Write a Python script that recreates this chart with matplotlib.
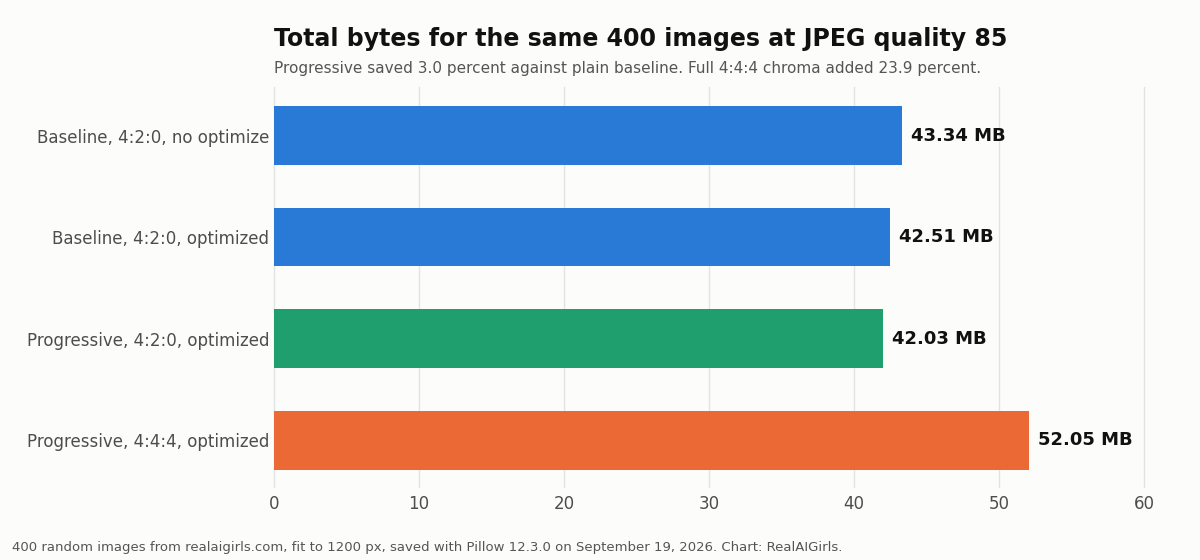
import matplotlib
matplotlib.use("Agg")
import matplotlib.pyplot as plt

categories = [
    "Baseline, 4:2:0, no optimize",
    "Baseline, 4:2:0, optimized",
    "Progressive, 4:2:0, optimized",
    "Progressive, 4:4:4, optimized",
]
values_mb = [43.34, 42.51, 42.03, 52.05]
bar_colors = ["#2979D6", "#2979D6", "#209F6E", "#EB6935"]
value_labels = ["43.34 MB", "42.51 MB", "42.03 MB", "52.05 MB"]
xticks = [0, 10, 20, 30, 40, 50, 60]

title = "Total bytes for the same 400 images at JPEG quality 85"
subtitle = "Progressive saved 3.0 percent against plain baseline. Full 4:4:4 chroma added 23.9 percent."
footer = "400 random images from realaigirls.com, fit to 1200 px, saved with Pillow 12.3.0 on September 19, 2026. Chart: RealAIGirls."

bg = "#FCFCFA"
plt.rcParams["font.family"] = ["DejaVu Sans"]

fig = plt.figure(figsize=(12, 5.6), dpi=100, facecolor=bg)
ax = fig.add_axes([274/1200, 1 - 487/560, (1144-274)/1200, 400/560])
ax.set_facecolor(bg)

y = list(range(len(categories)))
ax.barh(y, values_mb, height=0.58, color=bar_colors, zorder=3)
for yi, v, lab in zip(y, values_mb, value_labels):
    ax.annotate(lab, xy=(v, yi), xytext=(9, 0), textcoords="offset pixels",
                va="center", ha="left", fontsize=13, fontweight="bold", color="#111111", zorder=4)

ax.set_xlim(0, 60)
ax.set_ylim(3.462, -0.478)
ax.set_yticks(y)
ax.set_yticklabels(categories)
ax.set_xticks(xticks)
ax.tick_params(axis="both", length=0, colors="#4D4D4D", labelsize=12)
ax.tick_params(axis="y", pad=3.5)
ax.tick_params(axis="x", pad=6)
ax.grid(axis="x", color="#E3E3E3", linewidth=1, zorder=0)
ax.grid(axis="y", visible=False)
for gl in ax.get_xgridlines():
    gl.set_clip_on(False)
for s in ax.spines.values():
    s.set_visible(False)

fig.text(274/1200, 1 - 39/560, title, ha="left", va="center", fontsize=17, fontweight="bold", color="#111111")
fig.text(274/1200, 1 - 68/560, subtitle, ha="left", va="center", fontsize=11, color="#555555")
fig.text(12/1200, 1 - 548/560, footer, ha="left", va="center", fontsize=9.5, color="#555555")

fig.savefig("out.png", dpi=100, facecolor=bg)
